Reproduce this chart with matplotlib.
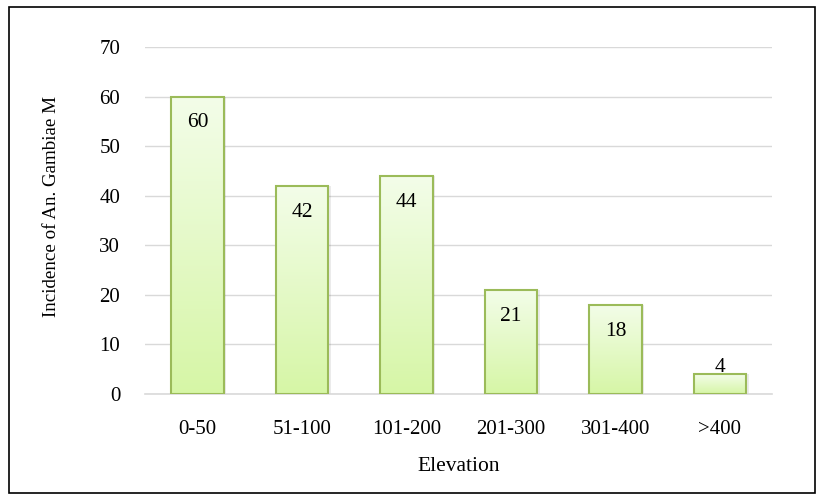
import numpy as np
import matplotlib.pyplot as plt
from matplotlib.colors import LinearSegmentedColormap
from matplotlib.patches import Rectangle

plt.rcParams['font.family'] = ['Liberation Serif', 'DejaVu Serif']

elevation = ["0-50", "51-100", "101-200", "201-300", "301-400", ">400"]
incidence = [60, 42, 44, 21, 18, 4]

fig = plt.figure(figsize=(8.25, 5.01), dpi=100)
ax = fig.add_axes([0.176, 0.2136, 0.760, 0.692])

# light-to-green vertical gradient, like the spreadsheet fill
cmap = LinearSegmentedColormap.from_list("fill", ["#d6f6a6", "#f3fde9"])
grad = np.linspace(0, 1, 256).reshape(-1, 1)

x = np.arange(len(elevation))
width = 0.5
bars = ax.bar(x, incidence, width, color="none", edgecolor="#9bbb59",
              linewidth=1.5, zorder=3)
for b, v in zip(bars, incidence):
    x0 = b.get_x()
    # soft shadow on the right
    ax.add_patch(Rectangle((x0 + 0.025, 0), width, v, facecolor="#000000",
                           alpha=0.08, edgecolor="none", zorder=1.5))
    ax.imshow(grad, cmap=cmap, origin="lower", aspect="auto",
              extent=(x0, x0 + width, 0, v), zorder=2)
    if v >= 8:
        ax.annotate(str(v), (b.get_x() + width / 2, v), xytext=(0, -12),
                    textcoords="offset points", ha="center", va="top",
                    fontsize=15.5, zorder=4)
    else:
        ax.annotate(str(v), (b.get_x() + width / 2, v), xytext=(0, 5),
                    textcoords="offset points", ha="center", va="center",
                    fontsize=15.5, zorder=4)

ax.set_xlim(-0.5, len(elevation) - 0.5)
ax.set_ylim(0, 70)
ax.set_yticks(range(0, 71, 10))
ax.set_xticks(x)
ax.set_xticklabels(elevation)
ax.tick_params(length=0, labelsize=15)
ax.tick_params(axis='x', pad=19)
ax.tick_params(axis='y', pad=18)
ax.grid(axis='y', color="#d9d9d9", linewidth=1, zorder=0)
ax.set_axisbelow(True)
for s in ["top", "right", "left"]:
    ax.spines[s].set_visible(False)
ax.spines["bottom"].set_color("#d9d9d9")
ax.spines["bottom"].set_linewidth(1.2)

ax.set_xlabel("Elevation", fontsize=15.5, labelpad=13)
ax.set_ylabel("Incidence of An. Gambiae M", fontsize=13.7)
ax.yaxis.set_label_coords(-0.136, 0.542)

# outer frame around the chart area
fig.add_artist(Rectangle((0.011, 0.015), 0.977, 0.972, transform=fig.transFigure,
                         fill=False, edgecolor="black", linewidth=1.2))

fig.savefig("out.png", dpi=100)
